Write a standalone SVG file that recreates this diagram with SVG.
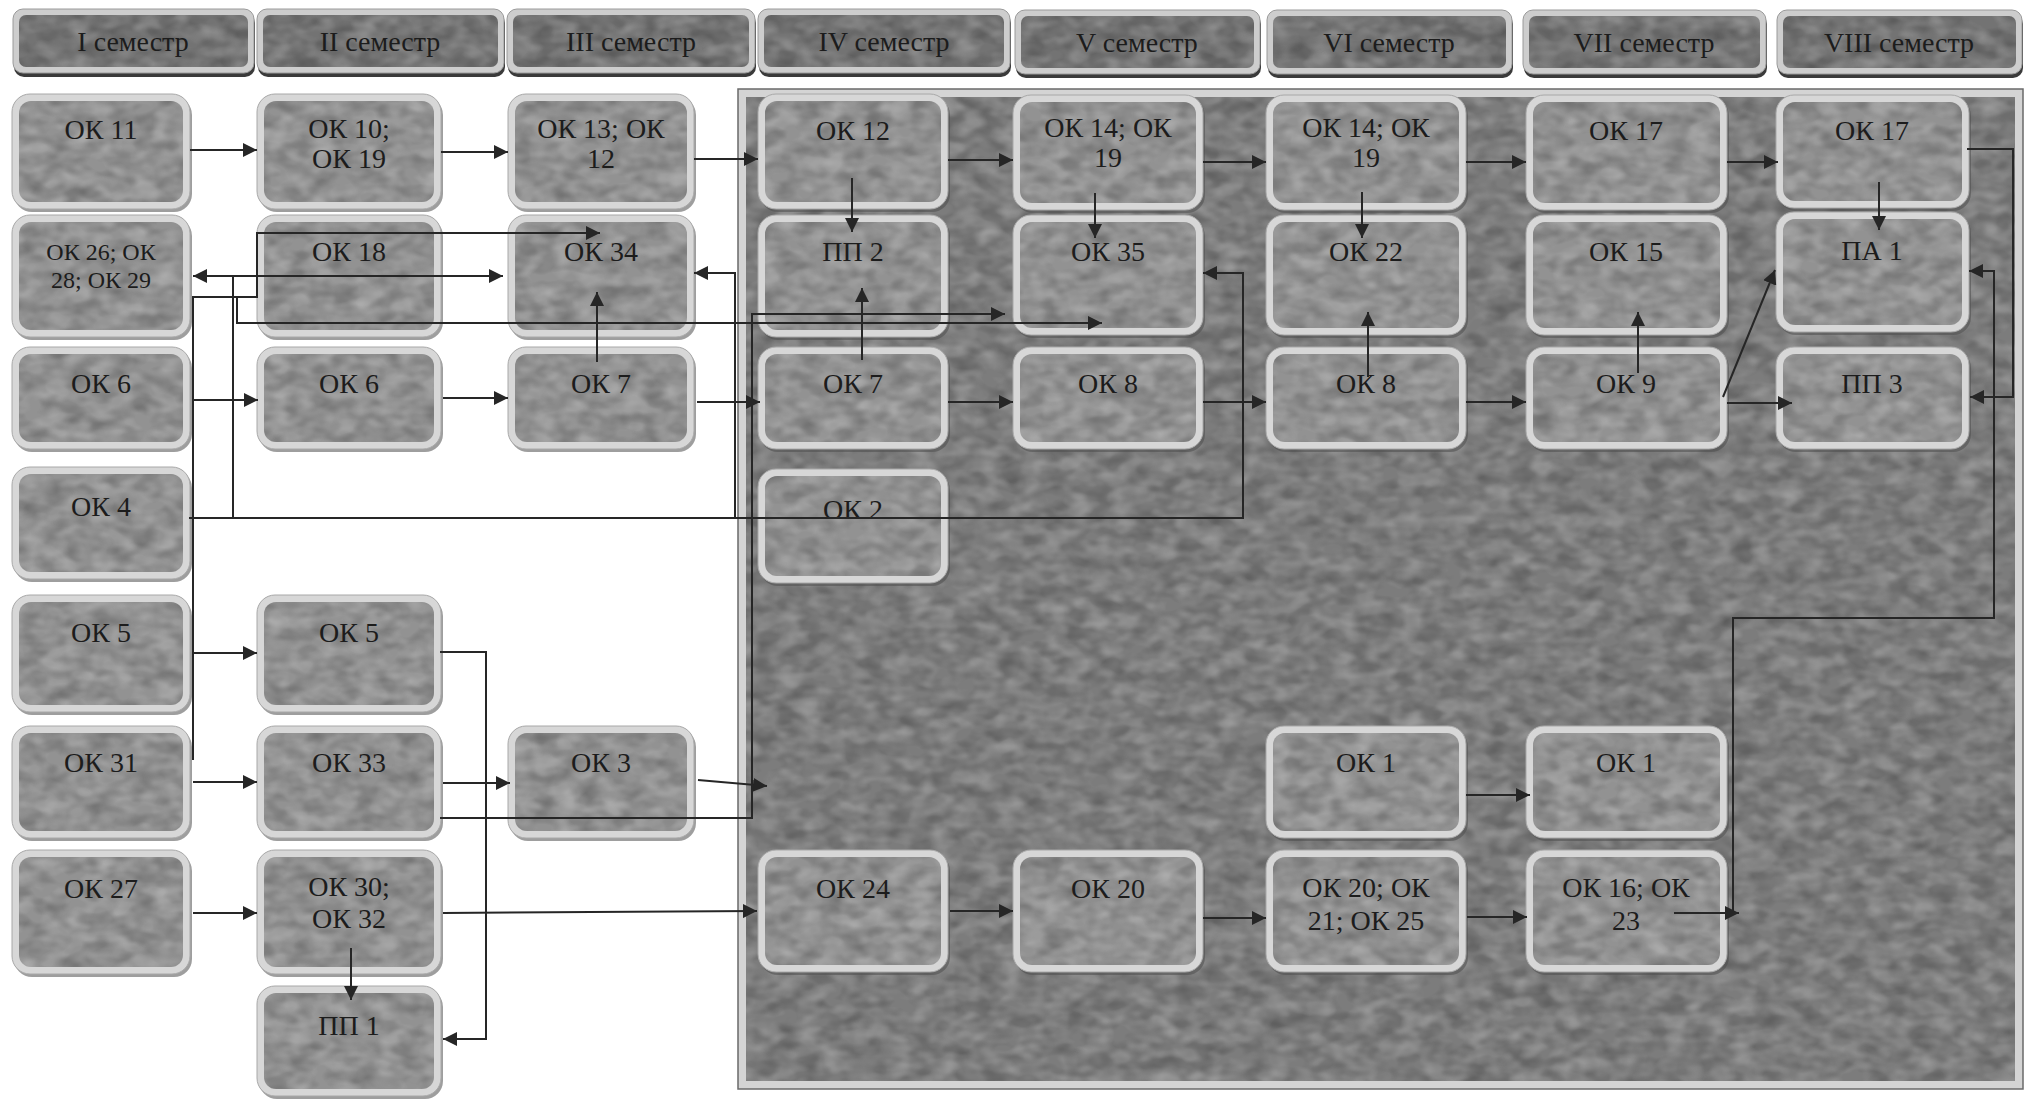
<svg xmlns="http://www.w3.org/2000/svg" width="2037" height="1099" viewBox="0 0 2037 1099">
<defs>
<style>
.t{font-family:"Liberation Serif","Times New Roman",serif;font-size:28px;fill:#1c1c1c;text-anchor:middle}
.ts{font-size:24px}
.ho{fill:#cdcdcd;stroke:#9a9a9a;stroke-width:1}
.hs{fill:#3a3a3a}
.hi{fill:#737373;filter:url(#tex)}
.ns{fill:#4e4e4e;opacity:.55}
.no{fill:#d7d7d7;stroke:#a8a8a8;stroke-width:1}
.ni{fill:#929292;filter:url(#tex)}
.c{fill:none;stroke:#262626;stroke-width:2}
.a{marker-end:url(#ah)}
</style>
<marker id="ah" markerUnits="userSpaceOnUse" markerWidth="16" markerHeight="14" refX="14" refY="7" orient="auto"><path d="M0,0 L14,7 L0,14 z" fill="#262626"/></marker>
<filter id="tex" x="0" y="0" width="1" height="1" color-interpolation-filters="sRGB">
<feTurbulence type="fractalNoise" baseFrequency="0.045 0.07" numOctaves="2" seed="7" result="n"/>
<feColorMatrix in="n" type="matrix" values="0 0 0 0 0  0 0 0 0 0  0 0 0 0 0  0.45 0 0 0 -0.17" result="d"/>
<feComposite in="d" in2="SourceGraphic" operator="in" result="dm"/>
<feColorMatrix in="n" type="matrix" values="0 0 0 0 1  0 0 0 0 1  0 0 0 0 1  0 0.45 0 0 -0.17" result="l"/>
<feComposite in="l" in2="SourceGraphic" operator="in" result="lm"/>
<feMerge><feMergeNode in="SourceGraphic"/><feMergeNode in="dm"/><feMergeNode in="lm"/></feMerge>
</filter>
</defs>
<rect x="0" y="0" width="2037" height="1099" fill="#ffffff"/>

<g id="panel">
<rect x="738" y="89" width="1285" height="1000" fill="#d4d4d4" stroke="#6a6a6a" stroke-width="1.5"/>
<rect x="746" y="97" width="1269" height="984" fill="#7c7c7c" filter="url(#tex)"/>
</g>

<g id="headers">
<g id="h1"><rect class="hs" x="14" y="13" width="241" height="64" rx="10"/><rect class="ho" x="13" y="9" width="241" height="64" rx="10"/><rect class="hi" x="19" y="15" width="229" height="52" rx="7"/><text class="t" x="133" y="51">I семестр</text></g>
<g id="h2"><rect class="hs" x="258" y="13" width="247" height="64" rx="10"/><rect class="ho" x="257" y="9" width="247" height="64" rx="10"/><rect class="hi" x="263" y="15" width="235" height="52" rx="7"/><text class="t" x="380" y="51">II семестр</text></g>
<g id="h3"><rect class="hs" x="508" y="13" width="248" height="64" rx="10"/><rect class="ho" x="507" y="9" width="248" height="64" rx="10"/><rect class="hi" x="513" y="15" width="236" height="52" rx="7"/><text class="t" x="631" y="51">III семестр</text></g>
<g id="h4"><rect class="hs" x="759" y="13" width="252" height="64" rx="10"/><rect class="ho" x="758" y="9" width="252" height="64" rx="10"/><rect class="hi" x="764" y="15" width="240" height="52" rx="7"/><text class="t" x="884" y="51">IV семестр</text></g>
<g id="h5"><rect class="hs" x="1016" y="14" width="245" height="64" rx="10"/><rect class="ho" x="1015" y="10" width="245" height="64" rx="10"/><rect class="hi" x="1021" y="16" width="233" height="52" rx="7"/><text class="t" x="1137" y="52">V семестр</text></g>
<g id="h6"><rect class="hs" x="1268" y="14" width="245" height="64" rx="10"/><rect class="ho" x="1267" y="10" width="245" height="64" rx="10"/><rect class="hi" x="1273" y="16" width="233" height="52" rx="7"/><text class="t" x="1389" y="52">VI семестр</text></g>
<g id="h7"><rect class="hs" x="1524" y="14" width="243" height="64" rx="10"/><rect class="ho" x="1523" y="10" width="243" height="64" rx="10"/><rect class="hi" x="1529" y="16" width="231" height="52" rx="7"/><text class="t" x="1644" y="52">VII семестр</text></g>
<g id="h8"><rect class="hs" x="1778" y="14" width="245" height="64" rx="10"/><rect class="ho" x="1777" y="10" width="245" height="64" rx="10"/><rect class="hi" x="1783" y="16" width="233" height="52" rx="7"/><text class="t" x="1899" y="52">VIII семестр</text></g>
</g>

<g id="nodes">
<!-- column 1 -->
<g id="n1_1"><rect class="ns" x="14" y="97" width="178" height="115" rx="18"/><rect class="no" x="12" y="94" width="178" height="115" rx="18"/><rect class="ni" x="19" y="101" width="164" height="101" rx="12"/><text class="t" x="101" y="139">ОК 11</text></g>
<g id="n1_2"><rect class="ns" x="14" y="218" width="178" height="122" rx="18"/><rect class="no" x="12" y="215" width="178" height="122" rx="18"/><rect class="ni" x="19" y="222" width="164" height="108" rx="12"/><text class="t ts" x="101" y="260">ОК 26; ОК</text><text class="t ts" x="101" y="288">28;  ОК 29</text></g>
<g id="n1_3"><rect class="ns" x="14" y="350" width="178" height="102" rx="18"/><rect class="no" x="12" y="347" width="178" height="102" rx="18"/><rect class="ni" x="19" y="354" width="164" height="88" rx="12"/><text class="t" x="101" y="393">ОК 6</text></g>
<g id="n1_4"><rect class="ns" x="14" y="470" width="178" height="112" rx="18"/><rect class="no" x="12" y="467" width="178" height="112" rx="18"/><rect class="ni" x="19" y="474" width="164" height="98" rx="12"/><text class="t" x="101" y="516">ОК 4</text></g>
<g id="n1_5"><rect class="ns" x="14" y="598" width="178" height="117" rx="18"/><rect class="no" x="12" y="595" width="178" height="117" rx="18"/><rect class="ni" x="19" y="602" width="164" height="103" rx="12"/><text class="t" x="101" y="642">ОК 5</text></g>
<g id="n1_6"><rect class="ns" x="14" y="729" width="178" height="112" rx="18"/><rect class="no" x="12" y="726" width="178" height="112" rx="18"/><rect class="ni" x="19" y="733" width="164" height="98" rx="12"/><text class="t" x="101" y="772">ОК 31</text></g>
<g id="n1_7"><rect class="ns" x="14" y="853" width="178" height="124" rx="18"/><rect class="no" x="12" y="850" width="178" height="124" rx="18"/><rect class="ni" x="19" y="857" width="164" height="110" rx="12"/><text class="t" x="101" y="898">ОК 27</text></g>
<!-- column 2 -->
<g id="n2_1"><rect class="ns" x="259" y="97" width="184" height="115" rx="18"/><rect class="no" x="257" y="94" width="184" height="115" rx="18"/><rect class="ni" x="264" y="101" width="170" height="101" rx="12"/><text class="t" x="349" y="138">ОК 10;</text><text class="t" x="349" y="168">ОК 19</text></g>
<g id="n2_2"><rect class="ns" x="259" y="218" width="184" height="122" rx="18"/><rect class="no" x="257" y="215" width="184" height="122" rx="18"/><rect class="ni" x="264" y="222" width="170" height="108" rx="12"/><text class="t" x="349" y="261">ОК 18</text></g>
<g id="n2_3"><rect class="ns" x="259" y="350" width="184" height="102" rx="18"/><rect class="no" x="257" y="347" width="184" height="102" rx="18"/><rect class="ni" x="264" y="354" width="170" height="88" rx="12"/><text class="t" x="349" y="393">ОК 6</text></g>
<g id="n2_5"><rect class="ns" x="259" y="598" width="184" height="117" rx="18"/><rect class="no" x="257" y="595" width="184" height="117" rx="18"/><rect class="ni" x="264" y="602" width="170" height="103" rx="12"/><text class="t" x="349" y="642">ОК 5</text></g>
<g id="n2_6"><rect class="ns" x="259" y="729" width="184" height="112" rx="18"/><rect class="no" x="257" y="726" width="184" height="112" rx="18"/><rect class="ni" x="264" y="733" width="170" height="98" rx="12"/><text class="t" x="349" y="772">ОК 33</text></g>
<g id="n2_7"><rect class="ns" x="259" y="853" width="184" height="124" rx="18"/><rect class="no" x="257" y="850" width="184" height="124" rx="18"/><rect class="ni" x="264" y="857" width="170" height="110" rx="12"/><text class="t" x="349" y="896">ОК 30;</text><text class="t" x="349" y="928">ОК 32</text></g>
<g id="n2_8"><rect class="ns" x="259" y="989" width="184" height="110" rx="18"/><rect class="no" x="257" y="986" width="184" height="110" rx="18"/><rect class="ni" x="264" y="993" width="170" height="96" rx="12"/><text class="t" x="349" y="1035">ПП 1</text></g>
<!-- column 3 -->
<g id="n3_1"><rect class="ns" x="510" y="97" width="186" height="115" rx="18"/><rect class="no" x="508" y="94" width="186" height="115" rx="18"/><rect class="ni" x="515" y="101" width="172" height="101" rx="12"/><text class="t" x="601" y="138">ОК 13; ОК</text><text class="t" x="601" y="168">12</text></g>
<g id="n3_2"><rect class="ns" x="510" y="218" width="186" height="122" rx="18"/><rect class="no" x="508" y="215" width="186" height="122" rx="18"/><rect class="ni" x="515" y="222" width="172" height="108" rx="12"/><text class="t" x="601" y="261">ОК 34</text></g>
<g id="n3_3"><rect class="ns" x="510" y="350" width="186" height="102" rx="18"/><rect class="no" x="508" y="347" width="186" height="102" rx="18"/><rect class="ni" x="515" y="354" width="172" height="88" rx="12"/><text class="t" x="601" y="393">ОК 7</text></g>
<g id="n3_6"><rect class="ns" x="510" y="729" width="186" height="112" rx="18"/><rect class="no" x="508" y="726" width="186" height="112" rx="18"/><rect class="ni" x="515" y="733" width="172" height="98" rx="12"/><text class="t" x="601" y="772">ОК 3</text></g>
<!-- column 4 -->
<g id="n4_1"><rect class="ns" x="760" y="97" width="190" height="115" rx="18"/><rect class="no" x="758" y="94" width="190" height="115" rx="18"/><rect class="ni" x="765" y="101" width="176" height="101" rx="12"/><text class="t" x="853" y="140">ОК 12</text></g>
<g id="n4_2"><rect class="ns" x="760" y="218" width="190" height="122" rx="18"/><rect class="no" x="758" y="215" width="190" height="122" rx="18"/><rect class="ni" x="765" y="222" width="176" height="108" rx="12"/><text class="t" x="853" y="261">ПП 2</text></g>
<g id="n4_3"><rect class="ns" x="760" y="350" width="190" height="102" rx="18"/><rect class="no" x="758" y="347" width="190" height="102" rx="18"/><rect class="ni" x="765" y="354" width="176" height="88" rx="12"/><text class="t" x="853" y="393">ОК 7</text></g>
<g id="n4_4"><rect class="ns" x="760" y="472" width="190" height="114" rx="18"/><rect class="no" x="758" y="469" width="190" height="114" rx="18"/><rect class="ni" x="765" y="476" width="176" height="100" rx="12"/><text class="t" x="853" y="519">ОК 2</text></g>
<g id="n4_7"><rect class="ns" x="760" y="853" width="190" height="122" rx="18"/><rect class="no" x="758" y="850" width="190" height="122" rx="18"/><rect class="ni" x="765" y="857" width="176" height="108" rx="12"/><text class="t" x="853" y="898">ОК 24</text></g>
<!-- column 5 -->
<g id="n5_1"><rect class="ns" x="1015" y="98" width="190" height="115" rx="18"/><rect class="no" x="1013" y="95" width="190" height="115" rx="18"/><rect class="ni" x="1020" y="102" width="176" height="101" rx="12"/><text class="t" x="1108" y="137">ОК 14; ОК</text><text class="t" x="1108" y="167">19</text></g>
<g id="n5_2"><rect class="ns" x="1015" y="218" width="190" height="120" rx="18"/><rect class="no" x="1013" y="215" width="190" height="120" rx="18"/><rect class="ni" x="1020" y="222" width="176" height="106" rx="12"/><text class="t" x="1108" y="261">ОК 35</text></g>
<g id="n5_3"><rect class="ns" x="1015" y="350" width="190" height="102" rx="18"/><rect class="no" x="1013" y="347" width="190" height="102" rx="18"/><rect class="ni" x="1020" y="354" width="176" height="88" rx="12"/><text class="t" x="1108" y="393">ОК 8</text></g>
<g id="n5_7"><rect class="ns" x="1015" y="853" width="190" height="122" rx="18"/><rect class="no" x="1013" y="850" width="190" height="122" rx="18"/><rect class="ni" x="1020" y="857" width="176" height="108" rx="12"/><text class="t" x="1108" y="898">ОК 20</text></g>
<!-- column 6 -->
<g id="n6_1"><rect class="ns" x="1268" y="98" width="200" height="115" rx="18"/><rect class="no" x="1266" y="95" width="200" height="115" rx="18"/><rect class="ni" x="1273" y="102" width="186" height="101" rx="12"/><text class="t" x="1366" y="137">ОК 14; ОК</text><text class="t" x="1366" y="167">19</text></g>
<g id="n6_2"><rect class="ns" x="1268" y="218" width="200" height="120" rx="18"/><rect class="no" x="1266" y="215" width="200" height="120" rx="18"/><rect class="ni" x="1273" y="222" width="186" height="106" rx="12"/><text class="t" x="1366" y="261">ОК 22</text></g>
<g id="n6_3"><rect class="ns" x="1268" y="350" width="200" height="102" rx="18"/><rect class="no" x="1266" y="347" width="200" height="102" rx="18"/><rect class="ni" x="1273" y="354" width="186" height="88" rx="12"/><text class="t" x="1366" y="393">ОК 8</text></g>
<g id="n6_6"><rect class="ns" x="1268" y="729" width="200" height="112" rx="18"/><rect class="no" x="1266" y="726" width="200" height="112" rx="18"/><rect class="ni" x="1273" y="733" width="186" height="98" rx="12"/><text class="t" x="1366" y="772">ОК 1</text></g>
<g id="n6_7"><rect class="ns" x="1268" y="853" width="200" height="122" rx="18"/><rect class="no" x="1266" y="850" width="200" height="122" rx="18"/><rect class="ni" x="1273" y="857" width="186" height="108" rx="12"/><text class="t" x="1366" y="897">ОК 20; ОК</text><text class="t" x="1366" y="930">21; ОК 25</text></g>
<!-- column 7 -->
<g id="n7_1"><rect class="ns" x="1528" y="98" width="201" height="115" rx="18"/><rect class="no" x="1526" y="95" width="201" height="115" rx="18"/><rect class="ni" x="1533" y="102" width="187" height="101" rx="12"/><text class="t" x="1626" y="140">ОК 17</text></g>
<g id="n7_2"><rect class="ns" x="1528" y="218" width="201" height="120" rx="18"/><rect class="no" x="1526" y="215" width="201" height="120" rx="18"/><rect class="ni" x="1533" y="222" width="187" height="106" rx="12"/><text class="t" x="1626" y="261">ОК 15</text></g>
<g id="n7_3"><rect class="ns" x="1528" y="350" width="201" height="102" rx="18"/><rect class="no" x="1526" y="347" width="201" height="102" rx="18"/><rect class="ni" x="1533" y="354" width="187" height="88" rx="12"/><text class="t" x="1626" y="393">ОК 9</text></g>
<g id="n7_6"><rect class="ns" x="1528" y="729" width="201" height="112" rx="18"/><rect class="no" x="1526" y="726" width="201" height="112" rx="18"/><rect class="ni" x="1533" y="733" width="187" height="98" rx="12"/><text class="t" x="1626" y="772">ОК 1</text></g>
<g id="n7_7"><rect class="ns" x="1528" y="853" width="201" height="122" rx="18"/><rect class="no" x="1526" y="850" width="201" height="122" rx="18"/><rect class="ni" x="1533" y="857" width="187" height="108" rx="12"/><text class="t" x="1626" y="897">ОК 16; ОК</text><text class="t" x="1626" y="930">23</text></g>
<!-- column 8 -->
<g id="n8_1"><rect class="ns" x="1778" y="98" width="193" height="113" rx="18"/><rect class="no" x="1776" y="95" width="193" height="113" rx="18"/><rect class="ni" x="1783" y="102" width="179" height="99" rx="12"/><text class="t" x="1872" y="140">ОК 17</text></g>
<g id="n8_2"><rect class="ns" x="1778" y="215" width="193" height="120" rx="18"/><rect class="no" x="1776" y="212" width="193" height="120" rx="18"/><rect class="ni" x="1783" y="219" width="179" height="106" rx="12"/><text class="t" x="1872" y="260">ПА 1</text></g>
<g id="n8_3"><rect class="ns" x="1778" y="350" width="193" height="102" rx="18"/><rect class="no" x="1776" y="347" width="193" height="102" rx="18"/><rect class="ni" x="1783" y="354" width="179" height="88" rx="12"/><text class="t" x="1872" y="393">ПП 3</text></g>
</g>

<g id="connectors">
<path class="c a" d="M190,150 H257"/>
<path class="c a" d="M441,152 H508"/>
<path class="c a" d="M694,159 H758"/>
<path class="c a" d="M948,160 H1013"/>
<path class="c a" d="M1203,162 H1266"/>
<path class="c a" d="M1466,162 H1526"/>
<path class="c a" d="M1727,162 H1778"/>
<path class="c a" d="M852,178 V232"/>
<path class="c a" d="M1095,193 V238"/>
<path class="c a" d="M1362,192 V238"/>
<path class="c a" d="M1879,182 V230"/>
<path class="c a" d="M862,360 V288"/>
<path class="c a" d="M597,362 V292"/>
<path class="c a" d="M1368,377 V312"/>
<path class="c a" d="M1638,373 V312"/>
<path class="c a" d="M1723,397 L1775,270"/>
<path class="c a" d="M1727,403 H1792"/>
<path class="c a" d="M193,400 H258"/>
<path class="c a" d="M443,398 H508"/>
<path class="c a" d="M697,402 H760"/>
<path class="c a" d="M948,402 H1013"/>
<path class="c a" d="M1203,402 H1266"/>
<path class="c a" d="M1466,402 H1526"/>
<path class="c a" d="M1967,149 H2013 V397 H1970"/>
<path class="c a" d="M1674,913 H1739"/>
<path class="c a" d="M1733,913 V618 H1994 V271 H1969"/>
<path class="c a" d="M189,518 H1243 V273 H1203"/>
<path class="c a" d="M233,518 V276 H193"/>
<path class="c a" d="M233,276 H503"/>
<path class="c a" d="M735,518 V273 H694"/>
<path class="c a" d="M193,760 V297 H257 V233 H600"/>
<path class="c a" d="M237,297 V323 H1102"/>
<path class="c a" d="M193,653 H257"/>
<path class="c a" d="M193,782 H257"/>
<path class="c a" d="M193,913 H257"/>
<path class="c a" d="M443,783 H510"/>
<path class="c a" d="M698,780 L767,786"/>
<path class="c a" d="M440,818 H752 V314 H1005"/>
<path class="c a" d="M443,913 L757,911"/>
<path class="c a" d="M351,948 V1000"/>
<path class="c a" d="M440,652 H486 V1039 H443"/>
<path class="c a" d="M950,911 H1013"/>
<path class="c a" d="M1203,918 H1266"/>
<path class="c a" d="M1467,917 H1527"/>
<path class="c a" d="M1466,795 H1530"/>
</g>
</svg>
